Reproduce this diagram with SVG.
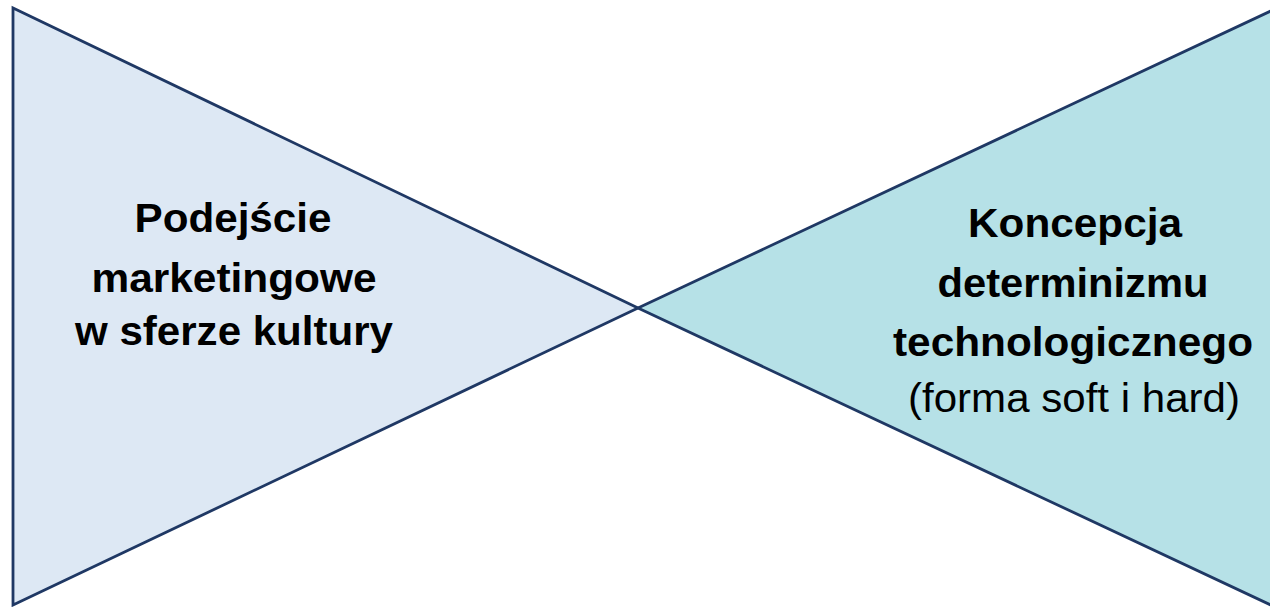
<svg xmlns="http://www.w3.org/2000/svg" width="1270" height="607" viewBox="0 0 1270 607">
<style>
.tri{stroke:#1f3864;stroke-width:2.8;stroke-linejoin:miter}
.t{font-family:"Liberation Sans",Arial,sans-serif;font-size:41px;fill:#000;text-anchor:middle}
.b{font-weight:bold}
</style>
<rect width="1270" height="607" fill="#fff"/>
<g id="left">
<polygon class="tri" points="13,8 13,605 638,308" fill="#dde8f4"/>
<text class="t b" x="233" y="232" textLength="197" lengthAdjust="spacingAndGlyphs">Podejście</text>
<text class="t b" x="234" y="292" textLength="285" lengthAdjust="spacingAndGlyphs">marketingowe</text>
<text class="t b" x="234" y="345" textLength="318" lengthAdjust="spacingAndGlyphs">w sferze kultury</text>
</g>
<g id="right">
<polygon class="tri" points="638,308 1275,9 1275,607" fill="#b6e1e7"/>
<text class="t b" x="1075" y="237" textLength="214" lengthAdjust="spacingAndGlyphs">Koncepcja</text>
<text class="t b" x="1073" y="297" textLength="271" lengthAdjust="spacingAndGlyphs">determinizmu</text>
<text class="t b" x="1073" y="356" textLength="360" lengthAdjust="spacingAndGlyphs">technologicznego</text>
<text class="t" x="1074" y="412" textLength="332" lengthAdjust="spacingAndGlyphs">(forma soft i hard)</text>
</g>
<g id="connectors"/>
</svg>
